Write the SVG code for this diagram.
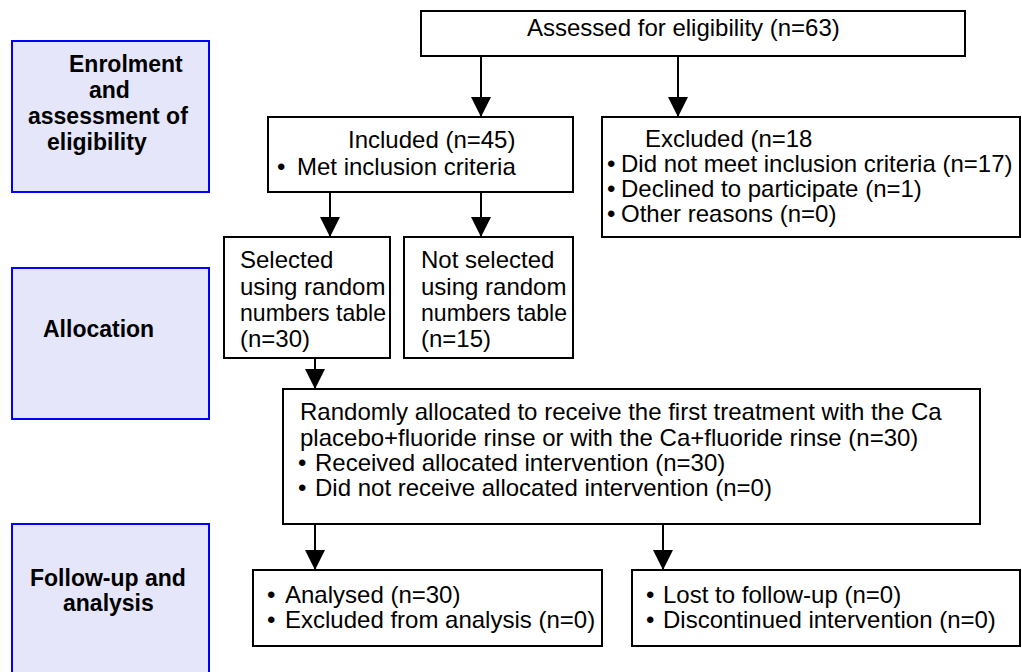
<svg xmlns="http://www.w3.org/2000/svg" width="1022" height="672" viewBox="0 0 1022 672">
<style>
.box{fill:#ffffff;stroke:#000000;stroke-width:2}
.lbl{fill:#e6e6fa;stroke:#0000ff;stroke-width:2}
.t{font-family:"Liberation Sans",Arial,Helvetica,sans-serif;font-size:24px;fill:#000000}
.b{font-weight:bold;font-size:23px}
.c{fill:none;stroke:#000000;stroke-width:2}
</style>
<defs>
<marker id="ah" markerUnits="userSpaceOnUse" viewBox="0 0 20 20" markerWidth="20" markerHeight="20" refX="20" refY="10" orient="auto">
<path d="M0,0 L20,10 L0,20 Z" fill="#000000"/>
</marker>
</defs>
<rect width="1022" height="672" fill="#ffffff"/>

<g id="stage-enrolment">
<rect class="lbl" x="12" y="41" width="197" height="151"/>
<text class="t b" x="69" y="72">Enrolment</text>
<text class="t b" x="89" y="98">and</text>
<text class="t b" x="28" y="124">assessment of</text>
<text class="t b" x="47" y="150">eligibility</text>
</g>
<g id="stage-allocation">
<rect class="lbl" x="12" y="268" width="197" height="151"/>
<text class="t b" x="43" y="337">Allocation</text>
</g>
<g id="stage-followup">
<rect class="lbl" x="12" y="524" width="197" height="160"/>
<text class="t b" x="30" y="586">Follow-up and</text>
<text class="t b" x="63" y="611">analysis</text>
</g>

<g id="assessed">
<rect class="box" x="421" y="11" width="544" height="45"/>
<text class="t" x="527" y="36">Assessed for eligibility (n=63)</text>
</g>
<g id="included">
<rect class="box" x="268" y="117" width="305" height="75"/>
<text class="t" x="348" y="148">Included (n=45)</text>
<text class="t" x="277" y="175">•</text><text class="t" x="297" y="175">Met inclusion criteria</text>
</g>
<g id="excluded">
<rect class="box" x="602" y="117" width="418" height="120"/>
<text class="t" x="645" y="147">Excluded (n=18</text>
<text class="t" x="607" y="172">•</text><text class="t" x="621" y="172">Did not meet inclusion criteria (n=17)</text>
<text class="t" x="607" y="197">•</text><text class="t" x="621" y="197">Declined to participate (n=1)</text>
<text class="t" x="607" y="222">•</text><text class="t" x="621" y="222">Other reasons (n=0)</text>
</g>
<g id="selected">
<rect class="box" x="224" y="237" width="166" height="121"/>
<text class="t" x="240" y="268">Selected</text>
<text class="t" x="240" y="295">using random</text>
<text class="t" x="240" y="321" textLength="146" lengthAdjust="spacingAndGlyphs">numbers table</text>
<text class="t" x="240" y="347">(n=30)</text>
</g>
<g id="not-selected">
<rect class="box" x="404" y="237" width="169" height="121"/>
<text class="t" x="421" y="268">Not selected</text>
<text class="t" x="421" y="295">using random</text>
<text class="t" x="421" y="321" textLength="146" lengthAdjust="spacingAndGlyphs">numbers table</text>
<text class="t" x="421" y="347">(n=15)</text>
</g>
<g id="randomised">
<rect class="box" x="283" y="389" width="697" height="135"/>
<text class="t" x="300" y="420">Randomly allocated to receive the first treatment with the Ca</text>
<text class="t" x="300" y="446">placebo+fluoride rinse or with the Ca+fluoride rinse (n=30)</text>
<text class="t" x="298" y="471">•</text><text class="t" x="315" y="471">Received allocated intervention (n=30)</text>
<text class="t" x="298" y="496">•</text><text class="t" x="315" y="496">Did not receive allocated intervention (n=0)</text>
</g>
<g id="analysed">
<rect class="box" x="253" y="570" width="349" height="76"/>
<text class="t" x="267" y="603">•</text><text class="t" x="285" y="603">Analysed (n=30)</text>
<text class="t" x="267" y="628">•</text><text class="t" x="285" y="628">Excluded from analysis (n=0)</text>
</g>
<g id="lost">
<rect class="box" x="632" y="570" width="388" height="76"/>
<text class="t" x="646" y="603">•</text><text class="t" x="663" y="603">Lost to follow-up (n=0)</text>
<text class="t" x="646" y="628">•</text><text class="t" x="663" y="628">Discontinued intervention (n=0)</text>
</g>

<g id="connectors">
<line class="c" x1="481" y1="56" x2="481" y2="117" marker-end="url(#ah)"/>
<line class="c" x1="678" y1="56" x2="678" y2="117" marker-end="url(#ah)"/>
<line class="c" x1="330" y1="192" x2="330" y2="237" marker-end="url(#ah)"/>
<line class="c" x1="481" y1="192" x2="481" y2="237" marker-end="url(#ah)"/>
<line class="c" x1="315" y1="358" x2="315" y2="389" marker-end="url(#ah)"/>
<line class="c" x1="315" y1="524" x2="315" y2="570" marker-end="url(#ah)"/>
<line class="c" x1="663" y1="524" x2="663" y2="570" marker-end="url(#ah)"/>
</g>
</svg>
